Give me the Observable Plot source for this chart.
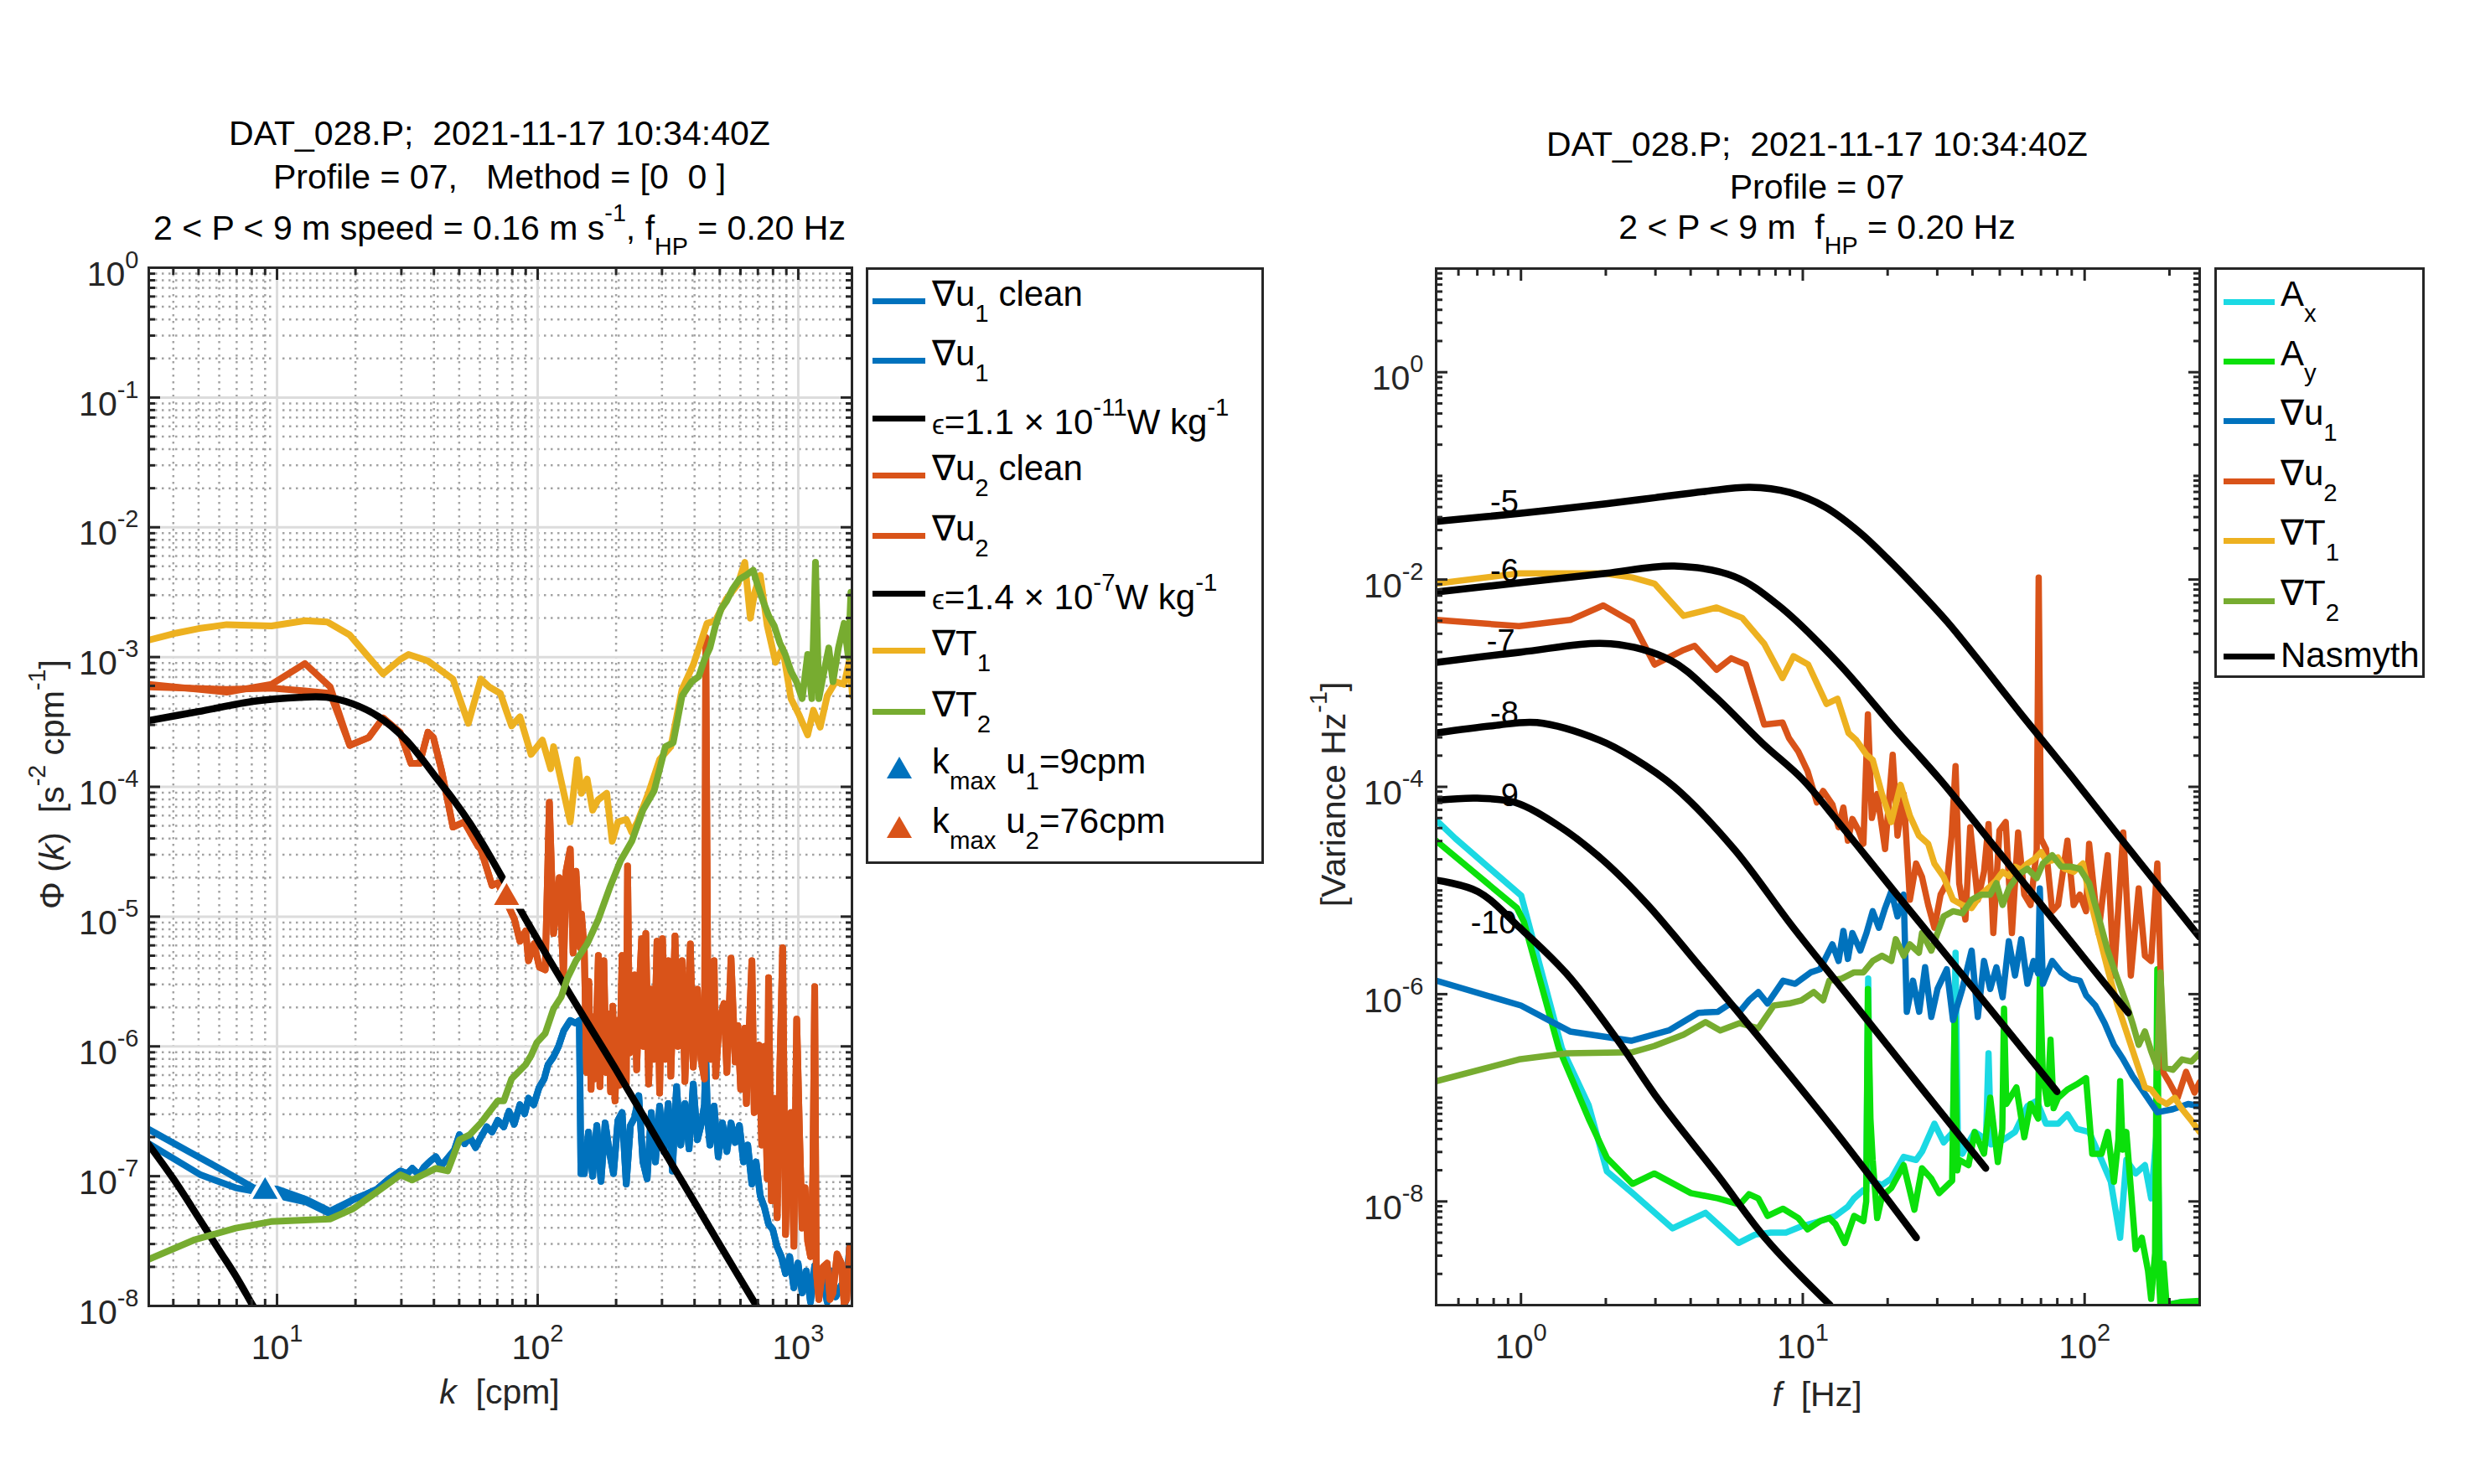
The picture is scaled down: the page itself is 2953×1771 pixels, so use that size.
<!DOCTYPE html>
<html><head><meta charset="utf-8">
<script src="https://cdn.jsdelivr.net/npm/d3@7"></script>
<script src="https://cdn.jsdelivr.net/npm/@observablehq/plot@0.6"></script>
<style>
html,body{margin:0;padding:0;background:#fff;}
#fig{position:relative;width:2953px;height:1771px;background:#fff;overflow:hidden;font-family:"Liberation Sans",Arial,Helvetica,sans-serif;color:#000;}
.t{position:absolute;white-space:pre;font-size:41px;line-height:41px;}
.c{transform:translate(-50%,-50%);}
.rot{transform:translate(-50%,-50%) rotate(-90deg);}
.sup{font-size:0.7em;position:relative;top:-0.75em;line-height:0;}
.sub{font-size:0.7em;position:relative;top:0.62em;line-height:0;}
.box{position:absolute;border:3px solid #262626;box-sizing:border-box;background:#fff;}
.sw{position:absolute;height:7px;}
.lg{position:absolute;white-space:pre;font-size:42px;line-height:42px;color:#000;}
</style></head>
<body><div id="fig"></div>
<script>
// ===== DATA (pairs are [log10 x, log10 y]) =====
// Left panel: wavenumber spectra, x = log10 k [cpm], y = log10 Phi
const u1RawLow   = [[0.508,-6.64],[0.661,-6.81],[0.797,-6.96],[0.910,-7.09],[1.000,-7.10],[1.113,-7.18],[1.203,-7.27]];
const u1CleanLow = [[0.508,-6.75],[0.707,-6.99],[0.842,-7.09],[0.977,-7.14],[1.113,-7.20],[1.203,-7.29]];
const u1Tail = [[1.293,-7.18],[1.340,-7.14],[1.384,-7.10],[1.430,-7.02],[1.474,-6.96],[1.500,-6.98],[1.519,-6.94],[1.545,-6.99],[1.564,-6.93],[1.590,-6.88],[1.609,-6.85],[1.630,-6.92],[1.655,-6.86],[1.680,-6.80],[1.700,-6.68],[1.720,-6.75],[1.740,-6.70],[1.762,-6.78],[1.782,-6.70],[1.805,-6.62],[1.825,-6.66],[1.847,-6.57],[1.870,-6.62],[1.890,-6.50],[1.910,-6.60],[1.932,-6.45],[1.950,-6.52],[1.965,-6.40],[1.985,-6.45],[2.005,-6.32],[2.025,-6.25],[2.040,-6.14],[2.061,-6.08],[2.080,-6.00],[2.100,-5.88],[2.125,-5.80],[2.145,-5.82],[2.160,-5.80],[2.166,-6.98],[2.179,-6.98],[2.195,-6.66],[2.211,-7.00],[2.227,-6.61],[2.243,-7.04],[2.259,-6.59],[2.275,-6.81],[2.291,-6.98],[2.308,-6.57],[2.324,-6.51],[2.340,-7.06],[2.356,-6.61],[2.372,-6.55],[2.388,-6.38],[2.404,-6.89],[2.420,-7.02],[2.436,-6.51],[2.452,-6.89],[2.468,-6.46],[2.484,-6.81],[2.501,-6.44],[2.517,-6.96],[2.533,-6.31],[2.549,-6.76],[2.565,-6.44],[2.581,-6.79],[2.597,-6.29],[2.613,-6.72],[2.629,-6.59],[2.640,-6.45],[2.645,-6.07],[2.652,-6.55],[2.661,-6.76],[2.677,-6.46],[2.693,-6.85],[2.709,-6.59],[2.726,-6.81],[2.742,-6.59],[2.758,-6.74],[2.774,-6.61],[2.790,-6.89],[2.806,-6.76],[2.822,-7.06],[2.838,-6.89],[2.854,-7.15],[2.870,-7.24],[2.886,-7.37],[2.902,-7.41],[2.918,-7.54],[2.935,-7.62],[2.951,-7.75],[2.967,-7.62],[2.983,-7.86],[2.999,-7.67],[3.015,-7.90],[3.031,-7.73],[3.047,-7.97],[3.063,-7.69],[3.079,-7.88],[3.095,-7.80],[3.111,-7.97],[3.127,-7.73],[3.144,-7.93],[3.165,-7.84],[3.181,-7.97],[3.197,-7.54],[3.208,-7.84]];
const u2CleanLow = [[0.507,-3.21],[0.807,-3.27],[0.979,-3.21],[1.107,-3.05],[1.204,-3.23]];
const u2RawLow   = [[0.507,-3.23],[0.807,-3.25],[0.979,-3.24],[1.107,-3.26],[1.204,-3.28]];
const u2Tail = [[1.279,-3.68],[1.352,-3.62],[1.407,-3.47],[1.472,-3.58],[1.514,-3.82],[1.547,-3.82],[1.579,-3.58],[1.600,-3.62],[1.632,-3.88],[1.675,-4.31],[1.718,-4.27],[1.772,-4.46],[1.782,-4.48],[1.825,-4.76],[1.847,-4.74],[1.911,-5.02],[1.932,-5.19],[1.954,-5.11],[1.965,-5.34],[1.986,-5.21],[2.007,-5.39],[2.029,-5.41],[2.045,-4.12],[2.061,-5.13],[2.083,-4.70],[2.099,-5.45],[2.109,-4.65],[2.125,-4.48],[2.136,-5.28],[2.147,-4.65],[2.163,-5.24],[2.168,-4.98],[2.179,-5.26],[2.188,-6.20],[2.196,-5.50],[2.205,-6.33],[2.211,-5.77],[2.220,-6.25],[2.233,-5.30],[2.239,-6.31],[2.248,-5.60],[2.254,-5.34],[2.263,-6.20],[2.271,-5.75],[2.280,-6.35],[2.288,-5.69],[2.297,-6.42],[2.305,-5.80],[2.314,-6.30],[2.324,-5.30],[2.331,-6.10],[2.340,-6.29],[2.345,-4.61],[2.353,-6.05],[2.361,-5.90],[2.372,-5.45],[2.380,-6.18],[2.389,-5.60],[2.399,-5.17],[2.406,-6.00],[2.415,-5.13],[2.426,-6.29],[2.436,-5.56],[2.447,-6.10],[2.458,-5.19],[2.468,-6.36],[2.479,-5.17],[2.490,-6.10],[2.501,-5.34],[2.511,-6.23],[2.527,-5.15],[2.538,-6.00],[2.554,-5.34],[2.565,-6.27],[2.576,-5.70],[2.586,-5.21],[2.597,-6.16],[2.606,-5.80],[2.613,-5.56],[2.627,-6.10],[2.640,-6.25],[2.645,-2.85],[2.653,-5.60],[2.665,-6.10],[2.677,-5.34],[2.683,-6.23],[2.697,-5.80],[2.715,-5.67],[2.726,-6.20],[2.742,-5.32],[2.758,-6.12],[2.768,-5.84],[2.779,-6.33],[2.795,-5.86],[2.801,-6.44],[2.811,-5.90],[2.822,-5.34],[2.831,-6.51],[2.838,-6.10],[2.849,-5.99],[2.860,-6.76],[2.870,-6.00],[2.881,-7.02],[2.886,-5.47],[2.897,-7.19],[2.908,-6.40],[2.919,-7.32],[2.929,-6.20],[2.940,-5.24],[2.951,-7.45],[2.961,-6.60],[2.972,-6.51],[2.983,-7.54],[2.994,-5.79],[3.004,-6.61],[3.015,-7.40],[3.026,-7.09],[3.036,-7.50],[3.047,-7.62],[3.056,-7.00],[3.063,-5.54],[3.069,-7.73],[3.079,-7.95],[3.095,-7.70],[3.111,-7.67],[3.122,-7.95],[3.133,-7.90],[3.149,-7.60],[3.165,-7.67],[3.176,-7.98],[3.186,-7.95],[3.197,-7.55],[3.208,-7.73]];
const t1Left = [[0.507,-2.87],[0.614,-2.815],[0.700,-2.78],[0.807,-2.75],[0.979,-2.76],[1.107,-2.72],[1.193,-2.73],[1.279,-2.83],[1.343,-2.98],[1.407,-3.13],[1.472,-3.02],[1.504,-2.98],[1.579,-3.03],[1.675,-3.17],[1.734,-3.51],[1.782,-3.17],[1.814,-3.23],[1.857,-3.28],[1.879,-3.41],[1.900,-3.53],[1.932,-3.46],[1.975,-3.75],[2.018,-3.64],[2.050,-3.86],[2.061,-3.69],[2.125,-4.27],[2.152,-3.79],[2.168,-4.05],[2.190,-3.94],[2.211,-4.18],[2.232,-4.10],[2.265,-4.05],[2.286,-4.42],[2.308,-4.27],[2.340,-4.25],[2.361,-4.35],[2.383,-4.27],[2.425,-4.05],[2.468,-3.79],[2.511,-3.69],[2.554,-3.25],[2.597,-3.06],[2.650,-2.74],[2.682,-2.72],[2.725,-2.55],[2.768,-2.44],[2.795,-2.27],[2.816,-2.70],[2.833,-2.50],[2.854,-2.37],[2.881,-2.76],[2.913,-3.04],[2.940,-2.93],[2.972,-3.32],[3.004,-3.45],[3.036,-3.60],[3.058,-3.41],[3.084,-3.54],[3.111,-3.30],[3.143,-3.19],[3.176,-3.21],[3.197,-3.02],[3.208,-3.30]];
const t2Left = [[0.508,-7.64],[0.684,-7.49],[0.842,-7.40],[0.977,-7.35],[1.203,-7.33],[1.293,-7.25],[1.384,-7.12],[1.474,-6.99],[1.519,-7.03],[1.609,-6.94],[1.655,-6.96],[1.700,-6.72],[1.740,-6.68],[1.782,-6.59],[1.847,-6.42],[1.870,-6.42],[1.900,-6.25],[1.954,-6.14],[1.975,-6.07],[1.997,-5.97],[2.029,-5.90],[2.061,-5.71],[2.090,-5.62],[2.115,-5.47],[2.147,-5.34],[2.190,-5.21],[2.233,-5.02],[2.276,-4.78],[2.318,-4.57],[2.361,-4.42],[2.404,-4.18],[2.447,-4.03],[2.490,-3.69],[2.520,-3.66],[2.554,-3.30],[2.591,-3.19],[2.618,-3.15],[2.640,-3.02],[2.661,-2.93],[2.682,-2.76],[2.704,-2.63],[2.725,-2.57],[2.747,-2.48],[2.774,-2.40],[2.800,-2.37],[2.827,-2.33],[2.843,-2.44],[2.865,-2.57],[2.886,-2.68],[2.908,-2.76],[2.929,-2.89],[2.950,-2.98],[2.972,-3.11],[2.993,-3.19],[3.015,-3.32],[3.036,-2.98],[3.052,-3.32],[3.066,-2.27],[3.079,-3.32],[3.095,-3.15],[3.117,-2.93],[3.133,-3.19],[3.154,-2.93],[3.176,-2.74],[3.192,-3.00],[3.202,-2.50],[3.210,-2.78]];
const nasmythEps11 = [[0.505,-6.75],[0.602,-7.02],[0.699,-7.32],[0.778,-7.57],[0.845,-7.78],[0.908,-8.00],[0.950,-8.14]];
const nasmythEps7  = [[0.505,-3.49],[0.699,-3.42],[0.914,-3.34],[1.086,-3.31],[1.190,-3.31],[1.290,-3.36],[1.390,-3.46],[1.491,-3.63],[1.554,-3.78],[1.615,-3.94],[1.677,-4.10],[1.740,-4.28],[1.813,-4.52],[1.881,-4.76],[1.954,-5.02],[2.041,-5.32],[2.167,-5.74],[2.301,-6.18],[2.477,-6.78],[2.602,-7.20],[2.699,-7.53],[2.855,-8.05]];
const kmaxK   = [9, 76];          // cpm
const kmaxPhi = [7.6e-8, 1.4e-5];

// Right panel: frequency spectra, x = log10 f [Hz], y = log10 variance
const axRight = [[-0.301,-4.32],[-0.232,-4.50],[0.001,-5.05],[0.145,-6.52],[0.240,-7.07],[0.305,-7.71],[0.396,-7.92],[0.538,-8.26],[0.655,-8.11],[0.772,-8.40],[0.831,-8.32],[0.886,-8.30],[0.940,-8.30],[0.995,-8.24],[1.061,-8.19],[1.116,-8.14],[1.160,-8.05],[1.182,-7.97],[1.215,-7.89],[1.225,-7.90],[1.232,-5.85],[1.240,-7.80],[1.281,-7.84],[1.314,-7.78],[1.358,-7.57],[1.402,-7.60],[1.423,-7.52],[1.467,-7.25],[1.500,-7.43],[1.533,-7.33],[1.542,-5.60],[1.550,-7.40],[1.566,-7.54],[1.610,-7.33],[1.650,-7.40],[1.659,-6.57],[1.668,-7.45],[1.709,-7.41],[1.753,-7.33],[1.797,-7.08],[1.830,-7.03],[1.863,-7.25],[1.906,-7.25],[1.939,-7.16],[1.972,-7.30],[2.016,-7.33],[2.060,-7.60],[2.093,-7.81],[2.126,-8.35],[2.148,-7.60],[2.181,-7.73],[2.214,-7.65],[2.236,-7.97],[2.258,-7.25],[2.269,-8.89],[2.291,-9.00],[2.346,-8.97],[2.408,-8.97]];
const ayRight = [[-0.301,-4.52],[-0.014,-5.17],[0.010,-5.30],[0.134,-6.52],[0.240,-7.20],[0.305,-7.58],[0.396,-7.83],[0.473,-7.73],[0.603,-7.92],[0.699,-7.97],[0.776,-8.03],[0.809,-7.93],[0.842,-7.97],[0.875,-8.14],[0.930,-8.07],[0.984,-8.16],[1.017,-8.27],[1.061,-8.19],[1.094,-8.16],[1.116,-8.22],[1.149,-8.40],[1.182,-8.14],[1.215,-8.19],[1.225,-8.00],[1.231,-5.95],[1.240,-7.20],[1.248,-7.60],[1.264,-8.16],[1.281,-7.95],[1.314,-7.87],[1.358,-7.65],[1.396,-8.08],[1.423,-7.68],[1.456,-7.78],[1.484,-7.92],[1.530,-7.80],[1.539,-6.19],[1.548,-7.70],[1.555,-7.60],[1.588,-7.65],[1.610,-7.33],[1.643,-7.54],[1.665,-7.00],[1.692,-7.62],[1.708,-7.30],[1.714,-6.14],[1.722,-7.06],[1.758,-6.90],[1.786,-7.38],[1.808,-7.06],[1.835,-7.20],[1.841,-5.84],[1.852,-6.79],[1.868,-7.06],[1.879,-6.44],[1.890,-7.10],[1.906,-7.00],[1.939,-6.92],[1.972,-6.87],[2.005,-6.81],[2.027,-7.54],[2.060,-7.54],[2.082,-7.33],[2.104,-7.81],[2.120,-7.40],[2.126,-6.84],[2.135,-7.50],[2.148,-7.33],[2.181,-8.46],[2.203,-8.35],[2.225,-8.67],[2.236,-8.94],[2.250,-8.50],[2.258,-5.76],[2.265,-8.80],[2.269,-9.00],[2.280,-8.60],[2.291,-9.00],[2.346,-8.97],[2.408,-8.96]];
const u1Right = [[-0.301,-5.87],[0.000,-6.11],[0.174,-6.36],[0.391,-6.45],[0.525,-6.35],[0.629,-6.18],[0.699,-6.17],[0.743,-6.09],[0.776,-6.17],[0.809,-6.06],[0.842,-5.98],[0.875,-6.09],[0.930,-5.87],[0.973,-5.90],[1.028,-5.79],[1.061,-5.76],[1.105,-5.52],[1.127,-5.68],[1.144,-5.39],[1.160,-5.66],[1.176,-5.41],[1.204,-5.58],[1.226,-5.41],[1.248,-5.20],[1.270,-5.36],[1.292,-5.17],[1.314,-5.01],[1.336,-5.25],[1.358,-5.04],[1.369,-6.17],[1.391,-5.87],[1.413,-6.17],[1.434,-5.74],[1.456,-6.22],[1.478,-5.95],[1.511,-5.76],[1.533,-6.25],[1.566,-5.95],[1.599,-5.58],[1.621,-6.22],[1.643,-5.68],[1.665,-5.95],[1.687,-5.74],[1.709,-6.03],[1.731,-5.49],[1.753,-5.82],[1.775,-5.47],[1.797,-5.90],[1.819,-5.68],[1.835,-5.80],[1.841,-4.98],[1.852,-5.90],[1.885,-5.68],[1.917,-5.79],[1.950,-5.85],[1.983,-5.87],[2.005,-6.01],[2.038,-6.11],[2.071,-6.28],[2.104,-6.49],[2.137,-6.63],[2.170,-6.79],[2.203,-6.92],[2.258,-7.14],[2.313,-7.11],[2.367,-7.06],[2.408,-7.08]];
const u2Right = [[-0.301,-2.39],[-0.007,-2.45],[0.175,-2.39],[0.292,-2.25],[0.395,-2.41],[0.474,-2.82],[0.577,-2.68],[0.616,-2.64],[0.694,-2.87],[0.746,-2.76],[0.798,-2.82],[0.863,-3.40],[0.928,-3.38],[0.951,-3.53],[0.984,-3.66],[1.017,-3.85],[1.050,-4.15],[1.072,-4.04],[1.105,-4.17],[1.127,-4.39],[1.144,-4.20],[1.160,-4.52],[1.176,-4.31],[1.198,-4.42],[1.215,-4.55],[1.231,-3.30],[1.245,-4.30],[1.264,-4.07],[1.292,-4.60],[1.319,-3.69],[1.336,-4.47],[1.358,-4.07],[1.380,-5.09],[1.402,-4.74],[1.423,-4.87],[1.445,-5.14],[1.467,-5.36],[1.489,-5.04],[1.511,-4.93],[1.528,-4.47],[1.542,-3.80],[1.555,-4.93],[1.577,-5.28],[1.594,-4.39],[1.621,-5.09],[1.643,-4.82],[1.659,-4.36],[1.676,-5.41],[1.698,-4.42],[1.720,-4.34],[1.742,-5.41],[1.764,-4.44],[1.786,-5.04],[1.808,-5.14],[1.830,-4.61],[1.837,-1.98],[1.845,-4.50],[1.863,-4.60],[1.885,-5.20],[1.906,-5.14],[1.939,-4.52],[1.961,-5.14],[1.983,-5.04],[2.005,-5.20],[2.016,-4.55],[2.049,-5.41],[2.082,-4.66],[2.104,-5.82],[2.137,-4.44],[2.164,-5.82],[2.192,-4.98],[2.214,-5.63],[2.236,-5.68],[2.258,-4.74],[2.280,-6.76],[2.300,-6.85],[2.330,-7.00],[2.360,-6.75],[2.390,-6.95],[2.408,-6.85]];
const t1Right = [[-0.301,-2.04],[-0.007,-1.94],[0.292,-1.94],[0.395,-1.98],[0.474,-2.04],[0.577,-2.35],[0.694,-2.27],[0.785,-2.37],[0.863,-2.62],[0.928,-2.95],[0.967,-2.74],[1.019,-2.82],[1.084,-3.20],[1.123,-3.15],[1.162,-3.48],[1.190,-3.55],[1.226,-3.69],[1.248,-3.74],[1.281,-4.07],[1.314,-4.34],[1.347,-3.98],[1.380,-4.28],[1.412,-4.47],[1.445,-4.55],[1.467,-4.74],[1.500,-4.87],[1.533,-5.09],[1.566,-5.14],[1.599,-5.17],[1.632,-5.04],[1.665,-4.96],[1.687,-4.90],[1.709,-4.82],[1.731,-4.86],[1.753,-4.77],[1.775,-4.80],[1.797,-4.74],[1.820,-4.70],[1.846,-4.63],[1.865,-4.72],[1.885,-4.71],[1.905,-4.68],[1.928,-4.79],[1.961,-4.82],[1.994,-4.74],[2.016,-5.04],[2.049,-5.41],[2.082,-5.76],[2.115,-6.09],[2.148,-6.36],[2.181,-6.63],[2.214,-6.90],[2.236,-6.92],[2.265,-7.02],[2.291,-7.06],[2.320,-7.00],[2.346,-7.11],[2.379,-7.22],[2.408,-7.33]];
const t2Right = [[-0.301,-6.84],[-0.007,-6.63],[0.162,-6.57],[0.396,-6.56],[0.473,-6.50],[0.577,-6.39],[0.655,-6.27],[0.707,-6.35],[0.776,-6.28],[0.842,-6.33],[0.897,-6.11],[0.951,-6.09],[0.995,-6.06],[1.039,-5.98],[1.072,-6.06],[1.094,-5.87],[1.138,-5.85],[1.182,-5.79],[1.215,-5.79],[1.248,-5.68],[1.281,-5.63],[1.314,-5.68],[1.330,-5.47],[1.358,-5.63],[1.380,-5.52],[1.412,-5.60],[1.423,-5.41],[1.456,-5.58],[1.478,-5.41],[1.500,-5.25],[1.533,-5.20],[1.566,-5.22],[1.599,-5.09],[1.632,-5.04],[1.665,-5.04],[1.687,-4.93],[1.709,-5.14],[1.731,-4.98],[1.764,-4.85],[1.797,-4.79],[1.830,-4.88],[1.852,-4.74],[1.885,-4.66],[1.917,-4.77],[1.950,-4.77],[1.983,-4.79],[2.016,-4.93],[2.049,-5.25],[2.082,-5.58],[2.115,-5.84],[2.148,-6.09],[2.170,-6.28],[2.192,-6.49],[2.214,-6.36],[2.236,-6.55],[2.258,-6.71],[2.269,-5.79],[2.285,-6.71],[2.313,-6.73],[2.346,-6.63],[2.379,-6.65],[2.408,-6.57]];
const nasmyth5  = [[-0.301,-1.44],[0,-1.36],[0.301,-1.27],[0.477,-1.21],[0.653,-1.15],[0.813,-1.11],[0.954,-1.16],[1.079,-1.30],[1.204,-1.55],[1.301,-1.80],[1.398,-2.07],[1.513,-2.41],[1.653,-2.88],[1.778,-3.31],[1.954,-3.90],[2.114,-4.45],[2.255,-4.93],[2.408,-5.45]];
const nasmyth6  = [[-0.301,-2.12],[0,-2.03],[0.301,-1.94],[0.544,-1.87],[0.756,-1.97],[0.914,-2.25],[1.124,-2.80],[1.330,-3.45],[1.487,-3.93],[1.699,-4.64],[1.903,-5.33],[2.155,-6.18]];
const nasmyth7  = [[-0.301,-2.80],[0,-2.70],[0.318,-2.62],[0.531,-2.78],[0.681,-3.11],[0.857,-3.58],[1.000,-3.93],[1.117,-4.31],[1.322,-5.00],[1.580,-5.86],[1.902,-6.94]];
const nasmyth8  = [[-0.301,-3.48],[-0.097,-3.41],[0.057,-3.38],[0.279,-3.55],[0.398,-3.72],[0.544,-4.00],[0.756,-4.60],[0.964,-5.35],[1.176,-6.07],[1.375,-6.75],[1.649,-7.68]];
const nasmyth9  = [[-0.301,-4.13],[-0.155,-4.11],[-0.022,-4.15],[0.130,-4.37],[0.288,-4.70],[0.447,-5.13],[0.591,-5.59],[0.851,-6.44],[1.117,-7.33],[1.403,-8.35]];
const nasmyth10 = [[-0.301,-4.90],[-0.153,-5.01],[-0.004,-5.36],[0.161,-5.80],[0.342,-6.44],[0.491,-7.03],[0.699,-7.75],[0.875,-8.38],[1.097,-9.00]];
const nasLabelText = ["-5","-6","-7","-8","-9","-10"];
const nasLabelF    = [0.873, 0.873, 0.848, 0.873, 0.873, 0.80];
const nasLabelV    = [0.0553, 0.0121, 0.00252, 0.000502, 0.0000813, 0.00000482];

// Tick values
const leftXMajor = [10, 100, 1000];
const leftYMajor = [1e-8,1e-7,1e-6,1e-5,1e-4,1e-3,1e-2,1e-1,1];
const rightXMajor = [1, 10, 100];
const rightYMajor = [1e-8,1e-6,1e-4,1e-2,1];

// ===== STYLE =====
const C = {blue:"#0072BD", orange:"#D95319", yellow:"#EDB120", olive:"#77AC30", cyan:"#1BD9E3", green:"#0BE00B", black:"#000000", axis:"#262626"};
const FONT = '"Liberation Sans", Arial, Helvetica, sans-serif';

const fromExp = pairs => pairs.map(([a, b]) => ({x: 10 ** a, y: 10 ** b}));
function minorsBetween(e0, e1, lo, hi) {
  const out = [];
  for (let e = e0; e <= e1; e++) for (let m = 2; m <= 9; m++) { const v = m * 10 ** e; if (v > lo && v < hi) out.push(+v.toPrecision(3)); }
  return out;
}
const leftXMinor = minorsBetween(0, 3, 3.22, 1607);
const leftYMinor = minorsBetween(-8, -1, 1e-8, 1);
const rightXMinor = minorsBetween(-1, 2, 0.5, 256);
const rightYMinor = minorsBetween(-9, 0, 1e-9, 10).concat([1e-9,1e-7,1e-5,1e-3,1e-1,10]);

const expFmt = d => "10^" + Math.round(Math.log10(d));
const line = (pairs, color, w = 8, curve = "linear") =>
  Plot.line(fromExp(pairs), {x: "x", y: "y", stroke: color, strokeWidth: w, curve, clip: true, strokeLinejoin: "round", strokeLinecap: "round"});

function tickAxes(xMaj, xMin, yMaj, yMin, xLab, yLab, yPad) {
  const s = {stroke: C.axis, strokeWidth: 3, tickFormat: () => "", label: null};
  return [
    Plot.axisX(xMaj, {...s, anchor: "bottom", tickSize: -14}),
    Plot.axisX(xMaj, {...s, anchor: "top", tickSize: -14}),
    Plot.axisX(xMin, {...s, anchor: "bottom", tickSize: -8}),
    Plot.axisX(xMin, {...s, anchor: "top", tickSize: -8}),
    Plot.axisY(yMaj, {...s, anchor: "left", tickSize: -14}),
    Plot.axisY(yMaj, {...s, anchor: "right", tickSize: -14}),
    Plot.axisY(yMin, {...s, anchor: "left", tickSize: -8}),
    Plot.axisY(yMin, {...s, anchor: "right", tickSize: -8}),
    Plot.axisX(xLab, {anchor: "bottom", tickSize: 0, tickPadding: 34, tickFormat: expFmt, label: null, fill: C.axis}),
    Plot.axisY(yLab, {anchor: "left", tickSize: 0, tickPadding: yPad, tickFormat: expFmt, label: null, dy: 8, fill: C.axis})
  ];
}

const plotStyle = {fontFamily: FONT, fontSize: "41px", background: "transparent", color: C.axis, overflow: "visible"};

const left = Plot.plot({
  width: 1100, height: 1771,
  marginLeft: 177, marginRight: 84, marginTop: 319, marginBottom: 213,
  x: {type: "log", domain: [3.22, 1607]},
  y: {type: "log", domain: [1e-8, 1]},
  style: plotStyle,
  marks: [
    Plot.gridX(leftXMinor, {stroke: "#a3a3a3", strokeOpacity: 1, strokeWidth: 2.5, strokeDasharray: "2.5,5.5"}),
    Plot.gridY(leftYMinor, {stroke: "#a3a3a3", strokeOpacity: 1, strokeWidth: 2.5, strokeDasharray: "2.5,5.5"}),
    Plot.gridX(leftXMajor, {stroke: "#dcdcdc", strokeOpacity: 1, strokeWidth: 3}),
    Plot.gridY(leftYMajor, {stroke: "#dcdcdc", strokeOpacity: 1, strokeWidth: 3}),
    line(u1CleanLow.concat(u1Tail), C.blue),
    line(u1RawLow.concat(u1Tail), C.blue),
    line(nasmythEps11, C.black, 8.5, "catmull-rom"),
    line(u2CleanLow.concat(u2Tail), C.orange),
    line(u2RawLow.concat(u2Tail), C.orange),
    line(nasmythEps7, C.black, 8.5, "catmull-rom"),
    line(t1Left, C.yellow),
    line(t2Left, C.olive),
    Plot.dot([{x: kmaxK[0], y: kmaxPhi[0]}], {x: "x", y: "y", symbol: "triangle", r: 14, fill: C.blue, stroke: "white", strokeWidth: 4.5}),
    Plot.dot([{x: kmaxK[1], y: kmaxPhi[1]}], {x: "x", y: "y", symbol: "triangle", r: 14, fill: C.orange, stroke: "white", strokeWidth: 4.5}),
    Plot.frame({stroke: C.axis, strokeWidth: 3}),
    ...tickAxes(leftXMajor, leftXMinor, leftYMajor, leftYMinor, leftXMajor, leftYMajor, 12)
  ]
});

const right = Plot.plot({
  width: 1100, height: 1771,
  marginLeft: 113, marginRight: 76, marginTop: 320, marginBottom: 214,
  x: {type: "log", domain: [0.5, 256]},
  y: {type: "log", domain: [1e-9, 10]},
  style: plotStyle,
  marks: [
    line(axRight, C.cyan, 7.5),
    line(ayRight, C.green, 7.5),
    line(u1Right, C.blue, 7.5),
    line(u2Right, C.orange, 7.5),
    line(t1Right, C.yellow, 7.5),
    line(t2Right, C.olive, 7.5),
    line(nasmyth5, C.black, 8.5, "catmull-rom"),
    line(nasmyth6, C.black, 8.5, "catmull-rom"),
    line(nasmyth7, C.black, 8.5, "catmull-rom"),
    line(nasmyth8, C.black, 8.5, "catmull-rom"),
    line(nasmyth9, C.black, 8.5, "catmull-rom"),
    line(nasmyth10, C.black, 8.5, "catmull-rom"),
    Plot.text(nasLabelText.map((t, i) => ({t, x: nasLabelF[i], y: nasLabelV[i]})), {x: "x", y: "y", text: "t", fontSize: 38, fill: "black", textAnchor: "middle"}),
    Plot.frame({stroke: C.axis, strokeWidth: 3}),
    ...tickAxes(rightXMajor, rightXMinor, rightYMajor, rightYMinor, rightXMajor, rightYMajor, 15)
  ]
});

function superscriptTicks(svg) {
  const NS = "http://www.w3.org/2000/svg";
  svg.querySelectorAll("text").forEach(t => {
    const m = /^10\^(.+)$/.exec(t.textContent);
    if (!m) return;
    t.textContent = "";
    const a = document.createElementNS(NS, "tspan"); a.textContent = "10"; t.appendChild(a);
    const b = document.createElementNS(NS, "tspan"); b.textContent = m[1].replace("\u2212", "-");
    b.setAttribute("dy", "-21"); b.setAttribute("font-size", "29"); t.appendChild(b);
  });
}
superscriptTicks(left); superscriptTicks(right);

const fig = document.getElementById("fig");
left.style.position = "absolute"; left.style.left = "0px"; left.style.top = "0px";
right.style.position = "absolute"; right.style.left = "1600px"; right.style.top = "0px";
fig.appendChild(left); fig.appendChild(right);

function el(cls, html, css) {
  const d = document.createElement("div");
  d.className = cls; d.innerHTML = html;
  Object.assign(d.style, css);
  fig.appendChild(d); return d;
}
const S = s => `<span class="sup">${s}</span>`, B = s => `<span class="sub">${s}</span>`;

// Titles
[["DAT_028.P;  2021-11-17 10:34:40Z", 159], ["Profile = 07,   Method = [0  0 ]", 211], [`2 < P < 9 m speed = 0.16 m s${S("-1")}, f${B("HP")} = 0.20 Hz`, 272]]
  .forEach(([h, y]) => el("t c", h, {left: "596px", top: y + "px"}));
[["DAT_028.P;  2021-11-17 10:34:40Z", 172], ["Profile = 07", 223], [`2 < P < 9 m  f${B("HP")} = 0.20 Hz`, 271]]
  .forEach(([h, y]) => el("t c", h, {left: "2168px", top: y + "px"}));

// Axis labels
el("t c", `<i>k</i>  [cpm]`, {left: "596px", top: "1661px", color: C.axis});
el("t c", `<i>f</i>  [Hz]`, {left: "2168px", top: "1664px", color: C.axis});
el("t rot", `Φ (<i>k</i>)  [s${S("-2")} cpm${S("-1")}]`, {left: "62px", top: "936px", color: C.axis});
el("t rot", `[Variance Hz${S("-1")}]`, {left: "1591px", top: "948px", color: C.axis});

// Legends
el("box", "", {left: "1033px", top: "319px", width: "475px", height: "712px"});
el("box", "", {left: "2642px", top: "319px", width: "251px", height: "490px"});
function legLine(x1, x2, y, color) { el("sw", "", {left: x1 + "px", top: (y - 3.5) + "px", width: (x2 - x1) + "px", background: color}); }
function legText(x, baseline, html) { el("lg", html, {left: x + "px", top: (baseline - 35.6) + "px"}); }
function legTri(cx, cy, color) {
  el("sw", `<svg width="32" height="28" viewBox="0 0 32 28"><polygon points="16,1 31,27 1,27" fill="${color}"/></svg>`, {left: (cx - 16) + "px", top: (cy - 15) + "px", height: "28px"});
}
const NAB = "\u2207";
const leftRows = [
  [359, C.blue, `${NAB}u${B("1")} clean`, 7],
  [430, C.blue, `${NAB}u${B("1")}`, 7],
  [499, C.black, `<span style="font-size:0.8em">\u03F5</span>=1.1 \u00D7 10${S("-11")}W kg${S("-1")}`, 20],
  [567, C.orange, `${NAB}u${B("2")} clean`, 7],
  [639, C.orange, `${NAB}u${B("2")}`, 7],
  [708, C.black, `<span style="font-size:0.8em">\u03F5</span>=1.4 \u00D7 10${S("-7")}W kg${S("-1")}`, 20],
  [776, C.yellow, `${NAB}T${B("1")}`, 7],
  [849, C.olive, `${NAB}T${B("2")}`, 7]
];
leftRows.forEach(([y, col, h, off]) => { legLine(1041, 1104, y, col); legText(1112, y + off, h); });
legTri(1073, 917, C.blue); legText(1112, 924, `k${B("max")} u${B("1")}=9cpm`);
legTri(1073, 988, C.orange); legText(1112, 995, `k${B("max")} u${B("2")}=76cpm`);

const rightRows = [
  [360, C.cyan, `A${B("x")}`, 6],
  [431, C.green, `A${B("y")}`, 6],
  [502, C.blue, `${NAB}u${B("1")}`, 6],
  [574, C.orange, `${NAB}u${B("2")}`, 6],
  [645, C.yellow, `${NAB}T${B("1")}`, 6],
  [717, C.olive, `${NAB}T${B("2")}`, 6],
  [783, C.black, `Nasmyth`, 14]
];
rightRows.forEach(([y, col, h, off]) => { legLine(2653, 2714, y, col); legText(2721, y + off, h); });
</script>
</body></html>
